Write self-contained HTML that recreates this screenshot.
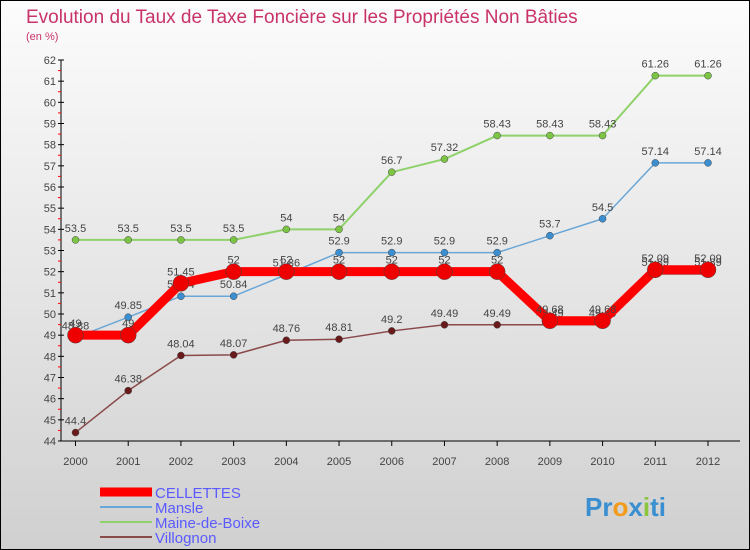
<!DOCTYPE html>
<html><head><meta charset="utf-8"><style>
body{margin:0}
svg{display:block;font-family:"Liberation Sans",sans-serif}
</style></head><body>
<svg width="750" height="550" xmlns="http://www.w3.org/2000/svg">
<defs><linearGradient id="bg" x1="0" y1="0" x2="0" y2="1"><stop offset="0" stop-color="#fcfcfc"/><stop offset="1" stop-color="#d0d0d0"/></linearGradient></defs>
<rect x="0.5" y="0.5" width="749" height="549" fill="url(#bg)" stroke="#000"/>
<text x="26" y="23" font-size="19" fill="#c8336a">Evolution du Taux de Taxe Foncière sur les Propriétés Non Bâties</text>
<text x="26" y="40" font-size="11" fill="#c8336a">(en %)</text>
<g id="axes"></g>
<g id="series"></g>
<g id="legend"></g>
<text x="585" y="516" font-size="26" font-weight="bold" fill="#3a8fd0">Pr<tspan fill="#f29a1b">o</tspan><tspan fill="#3a8fd0">x</tspan><tspan fill="#8bc53f">i</tspan>ti</text>
</svg>
<script>
const years=["2000","2001","2002","2003","2004","2005","2006","2007","2008","2009","2010","2011","2012"];
const yTicks=[44,45,46,47,48,49,50,51,52,53,54,55,56,57,58,59,60,61,62];
const cellettes=[49,49,51.45,52,52,52,52,52,52,49.68,49.68,52.09,52.09];
const mansle=[48.88,49.85,50.84,50.84,51.86,52.9,52.9,52.9,52.9,53.7,54.5,57.14,57.14];
const maine=[53.5,53.5,53.5,53.5,54,54,56.7,57.32,58.43,58.43,58.43,61.26,61.26];
const villognon=[44.4,46.38,48.04,48.07,48.76,48.81,49.2,49.49,49.49,49.49,49.49,51.89,51.89];
const names=["CELLETTES","Mansle","Maine-de-Boixe","Villognon"];
const NS="http://www.w3.org/2000/svg";
const x=i=>75.5+i*(708-75.5)/12;
const y=v=>441-(v-44)*(441-60)/18;
function mk(t,a,p){const e=document.createElementNS(NS,t);for(const k in a)e.setAttribute(k,a[k]);p.appendChild(e);return e;}
const ax=document.getElementById('axes');
const al=mk('line',{x1:61,y1:60,x2:61,y2:441,stroke:'#000'},ax);


const xl=mk('line',{x1:61,y1:441,x2:740,y2:441,stroke:'#000'},ax);


yTicks.forEach((v,i)=>{
 mk('line',{x1:58,x2:64,y1:y(v),y2:y(v),stroke:'#000'},ax);
 if(i<yTicks.length-1) mk('line',{x1:58,x2:61,y1:y(v+0.5),y2:y(v+0.5),stroke:'#f00'},ax);
 const t=mk('text',{x:56,y:y(v)+4,'font-size':11,fill:'#444','text-anchor':'end'},ax);t.textContent=v;
 
 
});
years.forEach((yr,i)=>{
 mk('line',{x1:x(i),x2:x(i),y1:441,y2:446,stroke:'#000'},ax);
 const t=mk('text',{x:x(i),y:465,'font-size':11,fill:'#444','text-anchor':'middle'},ax);t.textContent=yr;
 
 
});
const se=document.getElementById('series');
const defs=[[maine,'#8fd16a','#7cc444',2,3.5,'maine-de-boixe'],[mansle,'#6aa6d6','#3b8fd0',1.5,3.5,'mansle'],[villognon,'#8a4a4a','#6a1a1a',1.5,3.5,'villognon'],[cellettes,'#f00','#e00',9,8,'cellettes']];
defs.forEach(([d,lc,pc,w,r,nm])=>{
 const g=mk('g',{},se);
 
 
 const p=mk('polyline',{points:d.map((v,i)=>x(i)+','+y(v)).join(' '),fill:'none',stroke:lc,'stroke-width':w,'stroke-linejoin':'round'},g);
 
 
 d.forEach((v,i)=>{
  const c=mk('circle',{cx:x(i),cy:y(v),r:r,fill:pc,stroke:'#444','stroke-width':0.5},g);
  
  
  const t=mk('text',{x:x(i),y:y(v)-8,'font-size':11,fill:'#444','text-anchor':'middle'},g);t.textContent=v;
  
  
 });
});
const lg=document.getElementById('legend');
const lcol=['#f00','#6aa6d6','#8fd16a','#8a4a4a'],lw=[9,2,2,2];
names.forEach((n,i)=>{
 const yy=492+i*15;
 const g=mk('g',{},lg);
 
 
 mk('line',{x1:100,x2:152,y1:yy,y2:yy,stroke:lcol[i],'stroke-width':lw[i]},g);
 const t=mk('text',{x:155,y:yy+6,'font-size':15,fill:'#5a5aff'},g);t.textContent=n;
});
</script>
</body></html>
